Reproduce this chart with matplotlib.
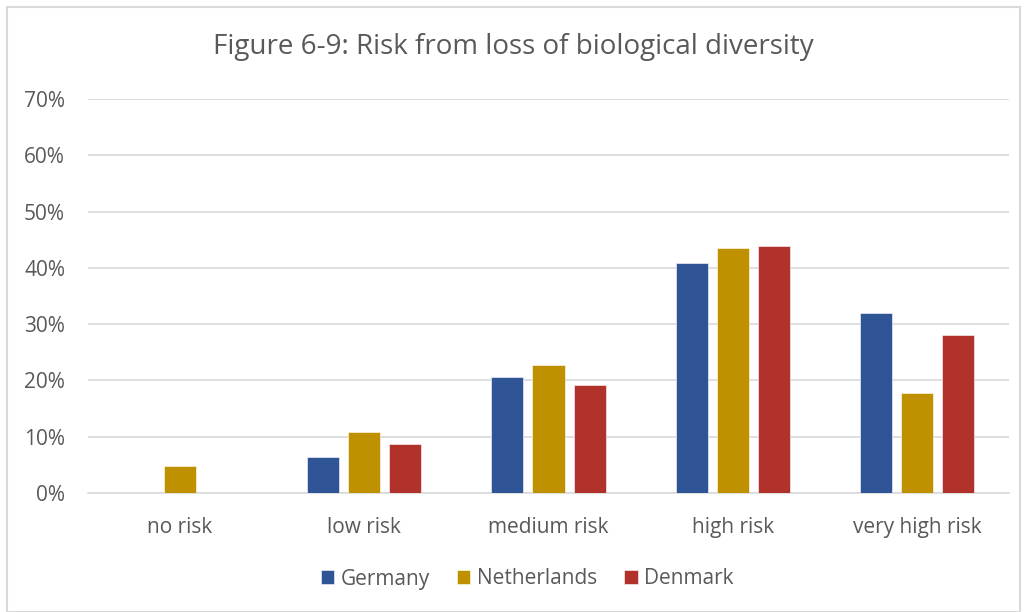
import matplotlib
import numpy as np

matplotlib.use("Agg")
import matplotlib.pyplot as plt  # noqa: E402
from matplotlib.patches import Rectangle  # noqa: E402

categories = ["no risk", "low risk", "medium risk", "high risk", "very high risk"]
germany = [0.0, 6.4, 20.6, 40.8, 31.9]
netherlands = [4.8, 10.8, 22.7, 43.5, 17.7]
denmark = [0.0, 8.7, 19.2, 43.8, 28.0]
series_names = ["Germany", "Netherlands", "Denmark"]
colors = ["#2F5597", "#BF9000", "#B0322A"]
yticks = [0, 10, 20, 30, 40, 50, 60, 70]

text_color = "#595959"
grid_color = "#D9D9D9"
plt.rcParams["font.family"] = ["Open Sans", "DejaVu Sans"]

fig = plt.figure(figsize=(10.27, 6.12), dpi=100)
ax = fig.add_axes([88 / 1027, 1 - 493 / 612, (1009 - 88) / 1027, (493 - 99) / 612])

x = np.arange(len(categories))
width = 0.174
step = 0.223
for i, (name, vals, color) in enumerate(zip(series_names, [germany, netherlands, denmark], colors)):
    ax.bar(x + (i - 1) * step, vals, width=width, color=color, label=name, zorder=3,
           edgecolor="white", linewidth=0.4)

ax.set_xlim(-0.5, len(categories) - 0.5)
ax.set_ylim(0, 70)
ax.set_yticks(yticks)
ax.set_yticklabels([f"{t}%" for t in yticks])
ax.set_xticks(x)
ax.set_xticklabels(categories)
ax.tick_params(axis="both", length=0, labelsize=15, colors=text_color)
ax.tick_params(axis="y", pad=16.5)
ax.tick_params(axis="x", pad=17)
ax.grid(axis="y", color=grid_color, linewidth=1.2, zorder=0)
for side in ["top", "right", "left"]:
    ax.spines[side].set_visible(False)
ax.spines["bottom"].set_color(grid_color)
ax.spines["bottom"].set_linewidth(1.2)

fig.text(0.5, 1 - 47 / 612, "Figure 6-9: Risk from loss of biological diversity",
         ha="center", va="center", fontsize=20, color=text_color)

fig.legend(loc="center", bbox_to_anchor=(527 / 1027, 1 - 579 / 612), ncol=3, frameon=False,
           fontsize=15, labelcolor=text_color, handlelength=0.65, handleheight=0.65,
           handletextpad=0.3, columnspacing=1.3)

fig.patches.append(Rectangle((7 / 1027, 0), 1 - 14 / 1027, 1 - 7 / 612, transform=fig.transFigure,
                             fill=False, edgecolor=grid_color, linewidth=1.5))

fig.savefig("out.png", dpi=100)
plt.close(fig)
